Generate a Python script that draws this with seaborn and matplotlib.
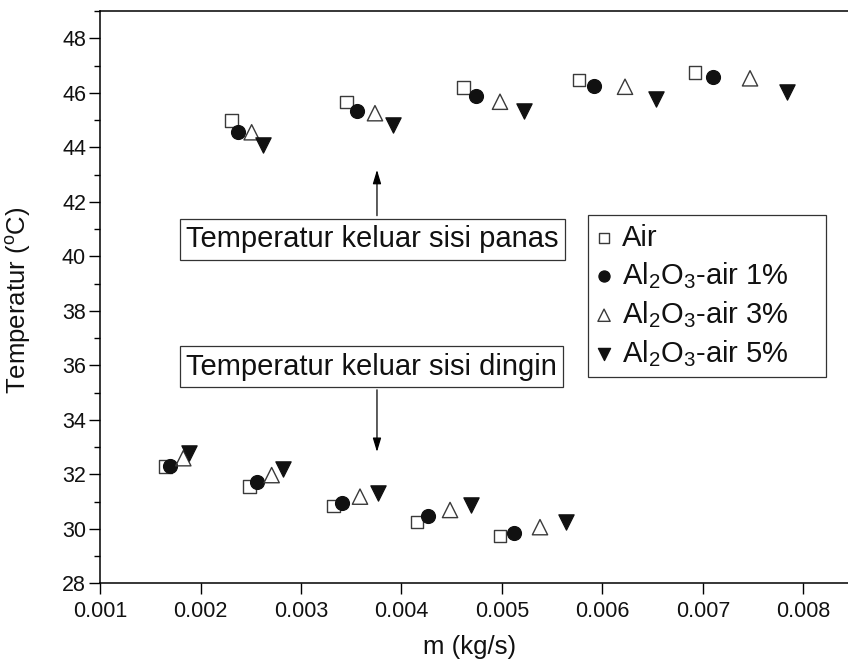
import matplotlib
matplotlib.use("Agg")
import matplotlib.pyplot as plt
from matplotlib.ticker import MultipleLocator, FormatStrFormatter
import numpy as np
import pandas as pd
import seaborn as sns

# Mass flow rate (kg/s) and outlet temperature (°C), hot-side outlet
x_air_hot = [0.00231, 0.003455, 0.004615, 0.005766, 0.00692]
y_air_hot = [44.98, 45.67, 46.20, 46.47, 46.74]
x_1_hot = [0.00237, 0.003554, 0.004738, 0.005918, 0.007103]
y_1_hot = [44.55, 45.34, 45.89, 46.25, 46.59]
x_3_hot = [0.002509, 0.003736, 0.00498, 0.006224, 0.007468]
y_3_hot = [44.55, 45.25, 45.67, 46.22, 46.53]
x_5_hot = [0.002625, 0.003918, 0.005222, 0.006529, 0.007833]
y_5_hot = [44.08, 44.82, 45.34, 45.76, 46.04]

# Cold-side outlet
x_air_cold = [0.001654, 0.002486, 0.003321, 0.004154, 0.00498]
y_air_cold = [32.28, 31.55, 30.84, 30.25, 29.74]
x_1_cold = [0.001697, 0.002559, 0.003405, 0.004264, 0.005119]
y_1_cold = [32.30, 31.73, 30.96, 30.47, 29.86]
x_3_cold = [0.001829, 0.002708, 0.003587, 0.004483, 0.005378]
y_3_cold = [32.59, 31.97, 31.18, 30.69, 30.06]
x_5_cold = [0.001888, 0.002824, 0.003769, 0.004694, 0.005637]
y_5_cold = [32.79, 32.18, 31.32, 30.87, 30.26]

series_labels = ["Air", r"Al$_2$O$_3$-air 1%", r"Al$_2$O$_3$-air 3%", r"Al$_2$O$_3$-air 5%"]
x_ticks = [0.001, 0.002, 0.003, 0.004, 0.005, 0.006, 0.007, 0.008]
y_ticks = [28, 30, 32, 34, 36, 38, 40, 42, 44, 46, 48]

frames = []
for lab, xh, yh, xc, yc in zip(
    series_labels,
    [x_air_hot, x_1_hot, x_3_hot, x_5_hot], [y_air_hot, y_1_hot, y_3_hot, y_5_hot],
    [x_air_cold, x_1_cold, x_3_cold, x_5_cold], [y_air_cold, y_1_cold, y_3_cold, y_5_cold],
):
    frames.append(pd.DataFrame({"m": xh + xc, "T": yh + yc, "fluid": lab}))
df = pd.concat(frames, ignore_index=True)

sns.set_theme(style="white")
plt.rcParams["font.family"] = ["Liberation Sans", "DejaVu Sans"]
plt.rcParams["mathtext.fontset"] = "custom"
plt.rcParams["mathtext.rm"] = "Liberation Sans"
plt.rcParams["mathtext.it"] = "Liberation Sans:italic"
plt.rcParams["mathtext.bf"] = "Liberation Sans:bold"

W, H = 848, 670
fig = plt.figure(figsize=(W / 100, H / 100), dpi=100)
ax_left, ax_right, ax_top, ax_bottom = 100, 853.75, 11, 583.3
ax = fig.add_axes([ax_left / W, (H - ax_bottom) / H, (ax_right - ax_left) / W, (ax_bottom - ax_top) / H])

styles = {
    series_labels[0]: dict(marker="s", s=9.0 ** 2, open=True),
    series_labels[1]: dict(marker="o", s=10.0 ** 2, open=False),
    series_labels[2]: dict(marker="^", s=11.0 ** 2, open=True),
    series_labels[3]: dict(marker="v", s=11.0 ** 2, open=False),
}

for lab in series_labels:
    st = styles[lab]
    sub = df[df["fluid"] == lab]
    sns.scatterplot(data=sub, x="m", y="T", ax=ax, marker=st["marker"], s=st["s"],
                    color="#111111", edgecolor="#111111", linewidth=0.9, label=lab, zorder=3)
    coll = ax.collections[-1]
    if st["open"]:
        coll.set_facecolor("none")
        coll.set_edgecolor("#3a3a3a")
        coll.set_linewidth(1.0)

ax.set_xlim(0.001, 0.0085)
ax.set_ylim(28, 49)
ax.set_xticks(x_ticks)
ax.set_yticks(y_ticks)
ax.yaxis.set_minor_locator(MultipleLocator(1))
ax.xaxis.set_major_formatter(FormatStrFormatter("%.3f"))

for side in ["left", "bottom", "top"]:
    ax.spines[side].set_visible(True)
    ax.spines[side].set_color("black")
    ax.spines[side].set_linewidth(1.1)
ax.spines["right"].set_visible(False)

ax.tick_params(which="major", direction="out", length=8, width=1.0, color="black",
               left=True, bottom=True, top=False, right=False, labelsize=15.5,
               labelcolor="#111111")
ax.tick_params(axis="x", which="major", pad=5)
ax.tick_params(axis="y", which="major", pad=2)
ax.tick_params(which="minor", direction="out", length=4, width=1.0, color="black",
               left=True, bottom=False, top=False, right=False)

ax.set_xlabel("m (kg/s)", fontsize=18.5, color="#111111")
ax.set_ylabel(r"Temperatur ($^{\mathrm{o}}$C)", fontsize=18.5, color="#111111")
ax.xaxis.set_label_coords((470 - ax_left) / (ax_right - ax_left), -0.09)
ax.yaxis.set_label_coords((33 - ax_left) / (ax_right - ax_left), 0.495)

# Callout boxes with arrows pointing to each group
box = dict(boxstyle="square,pad=0.22", fc="white", ec="#333333", lw=0.9)
arrow = dict(arrowstyle="-|>,head_width=0.18,head_length=0.6", color="black", lw=0.9,
             mutation_scale=14, shrinkA=0, shrinkB=0)
x_text = 0.001 + 86 / 100500
x_arrow = 0.003756
ax.text(x_text, 40.63, "Temperatur keluar sisi panas", ha="left", va="center",
        fontsize=21, color="#111111", bbox=box, zorder=4)
ax.annotate("", xy=(x_arrow, 43.17), xytext=(x_arrow, 41.49), arrowprops=arrow, zorder=4)
ax.text(x_text, 35.94, "Temperatur keluar sisi dingin", ha="left", va="center",
        fontsize=21, color="#111111", bbox=box, zorder=4)
ax.annotate("", xy=(x_arrow, 32.82), xytext=(x_arrow, 35.10), arrowprops=arrow, zorder=4)

leg = ax.legend(loc="upper left",
                bbox_to_anchor=(588 / W, (H - 392) / H, 238 / W, 177 / H),
                bbox_transform=fig.transFigure, mode="expand", borderaxespad=0,
                frameon=True, fancybox=False, edgecolor="#333333", framealpha=1,
                fontsize=21, markerscale=0.8, handletextpad=0.35, labelspacing=0.28,
                borderpad=0.3, handlelength=0.5)
leg.get_frame().set_linewidth(0.9)
for t in leg.get_texts():
    t.set_color("#111111")

fig.savefig("out.png", dpi=100)
